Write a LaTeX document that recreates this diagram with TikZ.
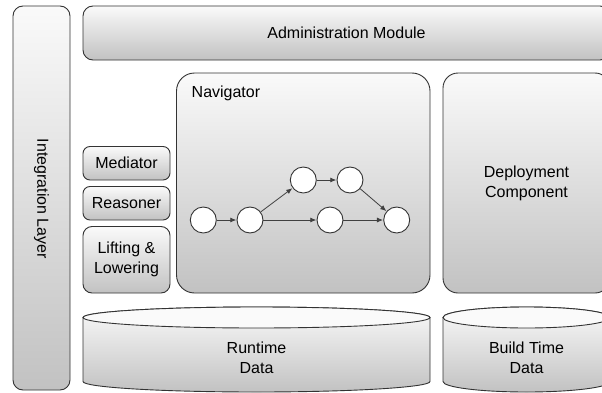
\documentclass[tikz,border=0pt]{standalone}
\usepackage{fontspec}
\setmainfont{Liberation Sans}
\usetikzlibrary{arrows.meta}
\definecolor{edge}{HTML}{333333}
\tikzset{
  box/.style={draw=edge, line width=0.9pt, top color=black!2, bottom color=black!24, inner sep=0pt, align=center, font=\fontsize{16}{20}\selectfont},
  txt/.style={inner sep=0pt, align=center, font=\fontsize{16}{20}\selectfont},
  st/.style={draw=edge, line width=0.9pt, circle, fill=white, minimum size=26pt, inner sep=0pt},
  flow/.style={draw=black!75, line width=0.8pt, -{Latex[length=6pt,width=5pt]}, shorten >=0.3pt},
  cylbody/.style={draw=edge, line width=0.9pt, top color=black!2, bottom color=black!24},
  cyltop/.style={draw=edge, line width=0.9pt, fill=black!2}
}
\begin{document}
\begin{tikzpicture}[x=1pt,y=1pt]
\clip (0,0) rectangle (602,392);
\fill[white] (0,0) rectangle (602,392);
% Integration layer
\node[box, rounded corners=10pt, minimum width=57pt, minimum height=384pt] (integ) at (41.5,194) {};
\node[txt, rotate=-90] (integtxt) at (41.5,193) {Integration Layer};
% Administration
\node[box, rounded corners=10pt, minimum width=527pt, minimum height=54pt] (admin) at (346.5,359) {Administration Module};
% Navigator
\node[box, rounded corners=18pt, minimum width=253.5pt, minimum height=220pt] (nav) at (303.25,209) {};
\node[txt, anchor=west] (navtxt) at (191.5,299) {Navigator};
% Deployment
\node[box, rounded corners=15pt, minimum width=167pt, minimum height=220pt] (dep) at (526.5,209) {Deployment\\Component};
% small boxes
\node[box, rounded corners=7pt, minimum width=87pt, minimum height=33.5pt] (med) at (126.5,228.75) {Mediator};
\node[box, rounded corners=7pt, minimum width=87pt, minimum height=33.5pt] (rea) at (126.5,188.75) {Reasoner};
\node[box, rounded corners=9pt, minimum width=87pt, minimum height=66.5pt] (lif) at (126.5,132.25) {Lifting \&\\Lowering};
% graph
\node[st] (c1) at (203.3,172) {};
\node[st] (c2) at (250,172) {};
\node[st] (c3) at (303.3,212) {};
\node[st] (c4) at (350,212) {};
\node[st] (c5) at (330,172) {};
\node[st] (c6) at (396.7,172) {};
\draw[flow] (c1) -- (c2);
\draw[flow] (c2) -- (c3);
\draw[flow] (c3) -- (c4);
\draw[flow] (c4) -- (c6);
\draw[flow] (c2) -- (c5);
\draw[flow] (c5) -- (c6);
% cylinders
\path[cylbody] (83,74.5) -- (83,10.5) arc[start angle=180,end angle=360,x radius=173.5,y radius=10.5] -- (430,74.5) arc[start angle=0,end angle=180,x radius=173.5,y radius=10.5] -- cycle;
\path[cyltop] (256.5,74.5) ellipse[x radius=173.5,y radius=10.5];
\node[txt] (rt) at (256.5,34) {Runtime\\Data};
\path[cylbody] (443,74.5) -- (443,10.5) arc[start angle=180,end angle=360,x radius=83.5,y radius=10.5] -- (610,74.5) arc[start angle=0,end angle=180,x radius=83.5,y radius=10.5] -- cycle;
\path[cyltop] (526.5,74.5) ellipse[x radius=83.5,y radius=10.5];
\node[txt] (bt) at (526.5,34) {Build Time\\Data};
\end{tikzpicture}
\end{document}
